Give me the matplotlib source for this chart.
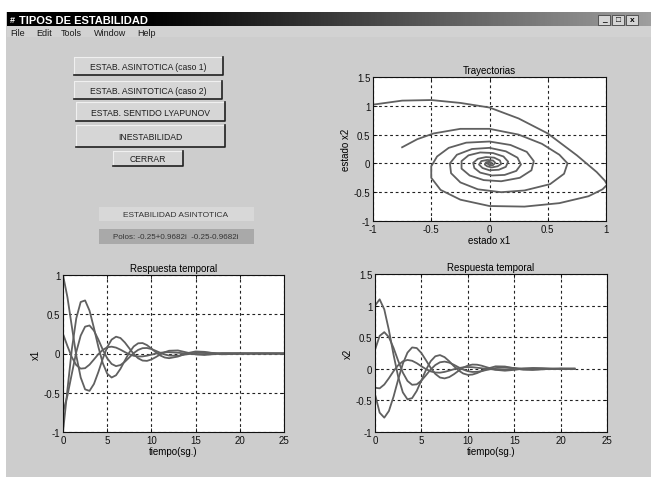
import numpy as np
import matplotlib
matplotlib.use('Agg')
import matplotlib.pyplot as plt
from matplotlib.patches import Rectangle

plt.rcParams['font.family'] = ['Liberation Sans', 'DejaVu Sans']

W, H = 651, 481

# time responses (4 initial conditions)
t1 = [0, 0.5, 1, 1.5, 2, 2.5, 3, 3.5, 4, 4.5, 5, 5.5, 6, 6.5, 7, 7.5, 8, 8.5, 9, 9.5,
      10, 10.5, 11, 11.5, 12, 13, 14, 15, 16, 17, 18, 20, 22, 25]
x1_a = [1.0, 0.718, 0.343, -0.025, -0.305, -0.457, -0.476, -0.388, -0.236, -0.066, 0.081,
        0.177, 0.214, 0.197, 0.140, 0.066, -0.006, -0.061, -0.090, -0.094, -0.076, -0.046,
        -0.012, 0.016, 0.035, 0.039, 0.013, -0.012, -0.019, -0.009, 0.003, 0.004, -0.002, 0.0]
x1_b = [-1.0, -0.463, 0.054, 0.447, 0.656, 0.676, 0.546, 0.325, 0.084, -0.123, -0.257,
        -0.306, -0.277, -0.195, -0.089, 0.013, 0.090, 0.130, 0.133, 0.107, 0.063, 0.016,
        -0.025, -0.051, -0.060, -0.039, 0.003, 0.026, 0.021, 0.003, -0.010, -0.003, 0.002, 0.0]
x1_c = [0.25, 0.095, -0.047, -0.147, -0.193, -0.187, -0.142, -0.076, -0.008, 0.046, 0.079,
        0.087, 0.075, 0.049, 0.018, -0.010, -0.029, -0.038, -0.037, -0.028, -0.015, -0.001,
        0.009, 0.016, 0.017, 0.010, -0.002, -0.008, -0.006, 0.0, 0.003, 0.001, 0.0, 0.0]
x1_d = [-0.75, -0.538, -0.257, 0.018, 0.228, 0.342, 0.357, 0.291, 0.177, 0.049, -0.061,
        -0.133, -0.161, -0.147, -0.105, -0.050, 0.005, 0.046, 0.068, 0.070, 0.057, 0.034,
        0.009, -0.012, -0.026, -0.029, -0.010, 0.009, 0.014, 0.007, -0.002, -0.002, 0.001, 0.0]

t2 = [0, 0.5, 1, 1.5, 2, 2.5, 3, 3.5, 4, 4.5, 5, 5.5, 6, 6.5, 7, 7.5, 8, 8.5, 9, 9.5,
      10, 10.5, 11, 11.5, 12, 13, 14, 15, 16, 17, 18, 20, 21.5]
x2_a = [-0.4, -0.694, -0.773, -0.667, -0.440, -0.168, 0.080, 0.256, 0.338, 0.328, 0.249,
        0.134, 0.015, -0.081, -0.138, -0.152, -0.131, -0.086, -0.032, 0.017, 0.051, 0.067,
        0.065, 0.049, 0.026, -0.016, -0.030, -0.017, 0.003, 0.013, 0.010, -0.003, 0.002]
x2_b = [1.0, 1.099, 0.940, 0.610, 0.222, -0.128, -0.373, -0.483, -0.464, -0.349, -0.183,
        -0.015, 0.120, 0.198, 0.217, 0.184, 0.119, 0.042, -0.026, -0.074, -0.096, -0.091,
        -0.068, -0.035, -0.002, 0.039, 0.036, 0.008, -0.015, -0.018, -0.007, 0.005, 0.001]
x2_c = [-0.3, -0.309, -0.249, -0.148, -0.037, 0.057, 0.118, 0.140, 0.127, 0.089, 0.040,
        -0.006, -0.041, -0.059, -0.061, -0.049, -0.029, -0.007, 0.011, 0.023, 0.028, 0.025,
        0.017, 0.008, -0.001, -0.012, -0.010, -0.001, 0.005, 0.005, 0.002, -0.001, 0.0]
x2_d = [0.3, 0.521, 0.580, 0.500, 0.330, 0.126, -0.060, -0.192, -0.253, -0.246, -0.187,
        -0.101, -0.011, 0.060, 0.103, 0.114, 0.098, 0.064, 0.024, -0.012, -0.038, -0.050,
        -0.048, -0.037, -0.019, 0.012, 0.023, 0.013, -0.002, -0.010, -0.007, 0.002, 0.0]

# phase plane trajectories
p1_x = [-1.0, -0.75, -0.5, -0.25, 0.0, 0.25, 0.5, 0.75, 0.92, 0.99, 1.01, 0.97, 0.85, 0.6,
        0.3, 0.0, -0.25, -0.42, -0.5, -0.5, -0.45, -0.35, -0.2, 0.0, 0.18, 0.32, 0.38, 0.36,
        0.26, 0.1, -0.05, -0.17, -0.24, -0.24, -0.18, -0.08, 0.03, 0.12, 0.16, 0.14, 0.08,
        0.0, -0.06, -0.09, -0.07, -0.02, 0.03, 0.05, 0.03, 0.0, -0.02, 0.0]
p1_y = [1.02, 1.09, 1.1, 1.05, 0.97, 0.78, 0.52, 0.14, -0.15, -0.3, -0.37, -0.45, -0.57,
        -0.69, -0.75, -0.74, -0.63, -0.46, -0.25, -0.05, 0.12, 0.27, 0.36, 0.38, 0.32, 0.2,
        0.04, -0.12, -0.25, -0.31, -0.29, -0.21, -0.09, 0.04, 0.14, 0.19, 0.18, 0.12, 0.03,
        -0.06, -0.11, -0.12, -0.08, -0.02, 0.04, 0.06, 0.05, 0.01, -0.03, -0.03, 0.0, 0.01]
p2_x = [-0.75, -0.62, -0.48, -0.25, 0.0, 0.25, 0.45, 0.6, 0.67, 0.64, 0.52, 0.3, 0.1, -0.1,
        -0.25, -0.33, -0.34, -0.28, -0.15, 0.0, 0.14, 0.24, 0.27, 0.23, 0.13, 0.02, -0.08,
        -0.13, -0.14, -0.1, -0.03, 0.04, 0.09, 0.1, 0.07, 0.02, -0.02, -0.04, -0.03, 0.0,
        0.02, 0.01]
p2_y = [0.28, 0.42, 0.52, 0.6, 0.6, 0.5, 0.34, 0.15, 0.0, -0.18, -0.36, -0.47, -0.5, -0.45,
        -0.33, -0.17, 0.0, 0.15, 0.25, 0.27, 0.21, 0.1, -0.02, -0.13, -0.2, -0.21, -0.16,
        -0.08, 0.01, 0.08, 0.11, 0.1, 0.05, -0.01, -0.05, -0.07, -0.05, -0.02, 0.02, 0.03,
        0.01, -0.01]

buttons = ['ESTAB. ASINTOTICA (caso 1)', 'ESTAB. ASINTOTICA (caso 2)',
           'ESTAB. SENTIDO LYAPUNOV', 'INESTABILIDAD', 'CERRAR']
menu = ['File', 'Edit', 'Tools', 'Window', 'Help']
estado = 'ESTABILIDAD ASINTOTICA'
polos = 'Polos: -0.25+0.9682i  -0.25-0.9682i'

fig = plt.figure(figsize=(W / 100, H / 100), dpi=100, facecolor='white')

# window background drawn in pixel coordinates
bg = fig.add_axes([0, 0, 1, 1])
bg.set_xlim(0, W)
bg.set_ylim(H, 0)
bg.axis('off')

bg.add_patch(Rectangle((6, 13), W - 6, H - 16, facecolor='#cdcdcd', edgecolor='none'))
grad = np.linspace(0, 1, 300)
grad = np.clip((grad - 0.22) / 0.78, 0, 1) * 0.62
bg.imshow(grad[None, :], cmap='gray', vmin=0, vmax=1, aspect='auto',
          extent=[7, W, 27, 13], zorder=1)
bg.text(10, 20.5, '#', color='white', fontsize=6.5, fontweight='bold', va='center', zorder=2)
bg.text(19, 20.5, 'TIPOS DE ESTABILIDAD', color='white', fontsize=8, fontweight='bold',
        va='center', zorder=2)
for i, g in enumerate(['_', '□', 'x']):
    x0 = 598 + i * 14
    bg.add_patch(Rectangle((x0, 15.5), 12, 10, facecolor='#d4d4d4', edgecolor='#444444',
                           lw=0.6, zorder=2))
    bg.text(x0 + 6, 21, g, fontsize=6, fontweight='bold', ha='center', va='center', zorder=3)

bg.add_patch(Rectangle((7, 27), W - 7, 11, facecolor='#d2d2d2', edgecolor='none', zorder=1))
for name, mx in zip(menu, [10, 36, 61, 94, 137]):
    bg.text(mx, 33, name, fontsize=6.5, va='center', color='#1a1a1a', zorder=2)

boxes = [(74, 58, 223, 76), (74, 82, 222, 100), (76, 103, 225, 122), (76, 126, 225, 148),
         (113, 152, 183, 167)]
for label, (l, tp, r, b) in zip(buttons, boxes):
    bg.add_patch(Rectangle((l, tp), r - l, b - tp, facecolor='#d6d6d6', edgecolor='none',
                           zorder=2))
    bg.plot([l, l, r], [b, tp, tp], color='#f0f0f0', lw=0.8, zorder=3)
    bg.plot([l, r, r], [b, b, tp], color='#202020', lw=1.2, zorder=3)
    bg.text((l + r) / 2, (tp + b) / 2 + 0.5, label, fontsize=6.2, ha='center', va='center',
            color='#1e1e1e', zorder=4)

bg.add_patch(Rectangle((99, 208), 155, 14, facecolor='#d8d8d8', edgecolor='none', zorder=2))
bg.text(176, 215.5, estado, fontsize=6, ha='center', va='center', color='#333333', zorder=3)
bg.add_patch(Rectangle((99, 230), 155, 15, facecolor='#a9a9a9', edgecolor='none', zorder=2))
bg.text(176, 237.5, polos, fontsize=5.8, ha='center', va='center', color='#333333', zorder=3)


def px_axes(l, tp, r, b):
    return fig.add_axes([l / W, 1 - b / H, (r - l) / W, (b - tp) / H])


def style(ax, xt, yt, xl, yl):
    ax.set_facecolor('white')
    ax.set_xticks(xt)
    ax.set_yticks(yt)
    ax.set_xticklabels([('%g' % v) for v in xt])
    ax.set_yticklabels([('%g' % v) for v in yt])
    ax.set_xlim(xt[0], xt[-1])
    ax.set_ylim(yt[0], yt[-1])
    ax.tick_params(direction='in', length=3, labelsize=7, width=0.6, pad=2,
                   top=True, right=True, colors='#111111')
    ax.grid(True, color='#222222', linestyle=(0, (2.5, 2.5)), lw=0.8)
    for s in ax.spines.values():
        s.set_linewidth(0.8)
        s.set_color('#111111')
    ax.set_xlabel(xl, fontsize=7, labelpad=1)
    ax.set_ylabel(yl, fontsize=7, labelpad=2)


line = dict(color='#606060', lw=1.3)

ax1 = px_axes(373, 78, 606, 222)
ax1.plot(p1_x, p1_y, **line)
ax1.plot(p2_x, p2_y, **line)
style(ax1, [-1, -0.5, 0, 0.5, 1], [-1, -0.5, 0, 0.5, 1, 1.5], 'estado x1', 'estado x2')
ax1.set_title('Trayectorias', fontsize=7, pad=3)

ax2 = px_axes(63, 276, 284, 433)
for ys in (x1_a, x1_b, x1_c, x1_d):
    ax2.plot(t1, ys, **line)
style(ax2, [0, 5, 10, 15, 20, 25], [-1, -0.5, 0, 0.5, 1], 'tiempo(sg.)', 'x1')
ax2.set_title('Respuesta temporal', fontsize=7, pad=3)

ax3 = px_axes(375, 275, 607, 433)
for ys in (x2_a, x2_b, x2_c, x2_d):
    ax3.plot(t2, ys, **line)
style(ax3, [0, 5, 10, 15, 20, 25], [-1, -0.5, 0, 0.5, 1, 1.5], 'tiempo(sg.)', 'x2')
ax3.set_title('Respuesta temporal', fontsize=7, pad=3)

fig.savefig('out.png', dpi=100, facecolor='white')
